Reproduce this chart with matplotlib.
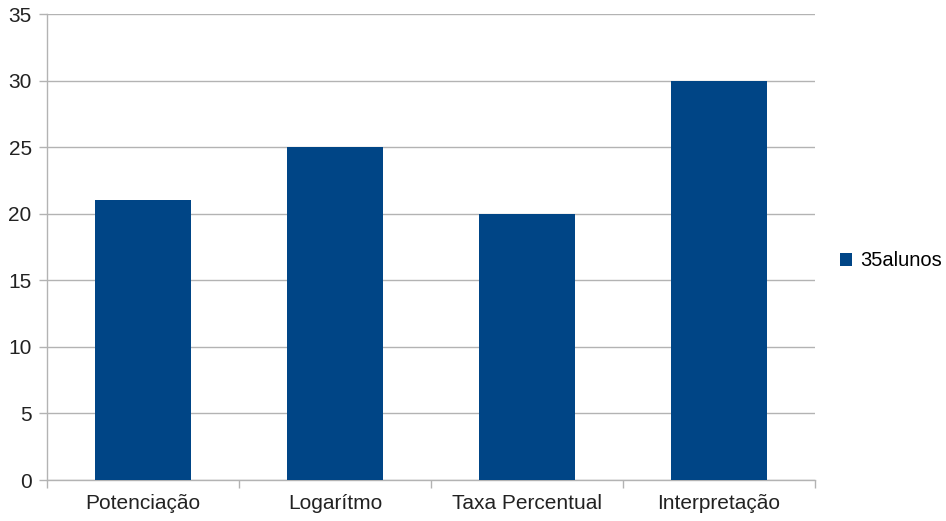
import matplotlib.pyplot as plt
import numpy as np

categories = ["Potenciação", "Logarítmo", "Taxa Percentual", "Interpretação"]
values = [21, 25, 20, 30]
series_name = "35alunos"

plt.rcParams["font.family"] = ["Liberation Sans", "DejaVu Sans"]

fig = plt.figure(figsize=(9.46, 5.21), dpi=100)
ax = fig.add_axes([47 / 946, 1 - 480 / 521, (815 - 47) / 946, (480 - 14) / 521])

x = np.arange(len(categories))
ax.bar(x, values, width=0.5, color="#004586", label=series_name, zorder=3)

ax.set_xlim(-0.5, len(categories) - 0.5)
ax.set_ylim(0, 35)
ax.set_yticks(range(0, 36, 5))
ax.yaxis.grid(True, color="#b3b3b3", linewidth=1, zorder=0)

# category labels centered, tick marks on the boundaries
ax.set_xticks(x)
ax.set_xticklabels(categories, fontsize=15, color="#222222")
ax.tick_params(axis="x", which="major", length=0, pad=10)
ax.set_xticks(np.arange(-0.5, len(categories)), minor=True)
ax.tick_params(axis="x", which="minor", length=6, color="#b3b3b3", width=1)
ax.tick_params(axis="y", length=6, color="#b3b3b3", width=1, labelsize=15,
               labelcolor="#222222", pad=5)

for side in ["top", "right"]:
    ax.spines[side].set_visible(False)
for side in ["left", "bottom"]:
    ax.spines[side].set_color("#b3b3b3")
    ax.spines[side].set_linewidth(1)

fig.legend(loc="center left", bbox_to_anchor=(840 / 946, 1 - 261 / 521),
           frameon=False, fontsize=14.5, handlelength=0.6, handleheight=0.6,
           handletextpad=0.4, borderaxespad=0, borderpad=0)

fig.savefig("out.png", dpi=100)
